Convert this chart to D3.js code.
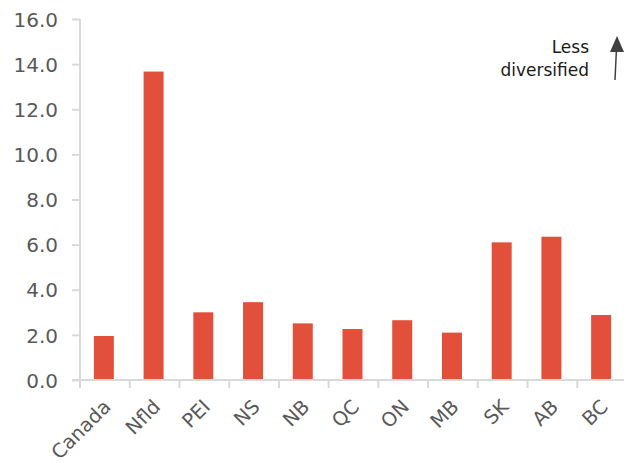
<!DOCTYPE html>
<html><head><meta charset="utf-8">
<script src="https://cdn.jsdelivr.net/npm/d3@7"></script>
<style>body{margin:0;background:#fff}</style>
</head><body><svg id="c" width="624" height="463"></svg>
<script>
const categories = ["Canada","Nfld","PEI","NS","NB","QC","ON","MB","SK","AB","BC"];
const values = [1.95,13.67,3.0,3.45,2.51,2.26,2.65,2.10,6.10,6.35,2.88];
const yTicks = [0,2,4,6,8,10,12,14,16];

const svg = d3.select("#c");
const m = {left:80, right:-3, top:19, bottom:83};
const W = 624, H = 463;
const x = d3.scaleBand().domain(categories).range([m.left, W - m.right]).paddingInner(0).paddingOuter(0);
const y = d3.scaleLinear().domain([0,16]).range([H - m.bottom, m.top]);
const font = "'DejaVu Sans', Verdana, sans-serif";

const yAxis = svg.append("g").attr("transform",`translate(${m.left},0)`)
  .call(d3.axisLeft(y).tickValues(yTicks).tickFormat(d3.format(".1f")).tickSize(8).tickPadding(14));
yAxis.select(".domain").attr("stroke","#d9d9d9").attr("stroke-width",2).attr("d",`M0,${y(16)}V${y(0)}`);
yAxis.selectAll(".tick line").attr("stroke","#d9d9d9").attr("stroke-width",2);
yAxis.selectAll("text").attr("fill","#595959").style("font-family",font).style("font-size","20px").attr("dy","0.36em");

const xAxis = svg.append("g").attr("transform",`translate(0,${y(0)})`)
  .call(d3.axisBottom(x).tickSize(8).tickPadding(6));
xAxis.select(".domain").attr("stroke","#d9d9d9").attr("stroke-width",2).attr("d",`M${m.left-8},0H${W}`);
xAxis.selectAll(".tick line").attr("stroke","#d9d9d9").attr("stroke-width",2)
  .attr("transform",`translate(${-x.bandwidth()/2},0)`);
xAxis.selectAll(".tick text").attr("fill","#595959").style("font-family",font).style("font-size","19.5px")
  .attr("text-anchor","end").attr("dy","0").attr("x",0).attr("y",0)
  .attr("transform","translate(7,28) rotate(-45)");

const bw = 20;
svg.append("g").selectAll("rect").data(values).join("rect")
  .attr("x",(d,i)=>x(categories[i]) + x.bandwidth()/2 - bw/2 - 1)
  .attr("width",bw)
  .attr("y",d=>y(d))
  .attr("height",d=>y(0)-y(d) - 1)
  .attr("fill","#e2503b");

// annotation
const ann = svg.append("g");
ann.append("text").attr("x",589).attr("y",53).attr("text-anchor","end")
  .style("font-family",font).style("font-size","17px").attr("fill","#1a1a1a").text("Less");
ann.append("text").attr("x",589).attr("y",76).attr("text-anchor","end")
  .style("font-family",font).style("font-size","17px").attr("fill","#1a1a1a").text("diversified");
ann.append("line").attr("x1",615).attr("y1",80).attr("x2",616.5).attr("y2",48)
  .attr("stroke","#404040").attr("stroke-width",1.5);
ann.append("path").attr("d","M610,52 L617,36 L624,52 Z").attr("fill","#404040");
</script></body></html>
